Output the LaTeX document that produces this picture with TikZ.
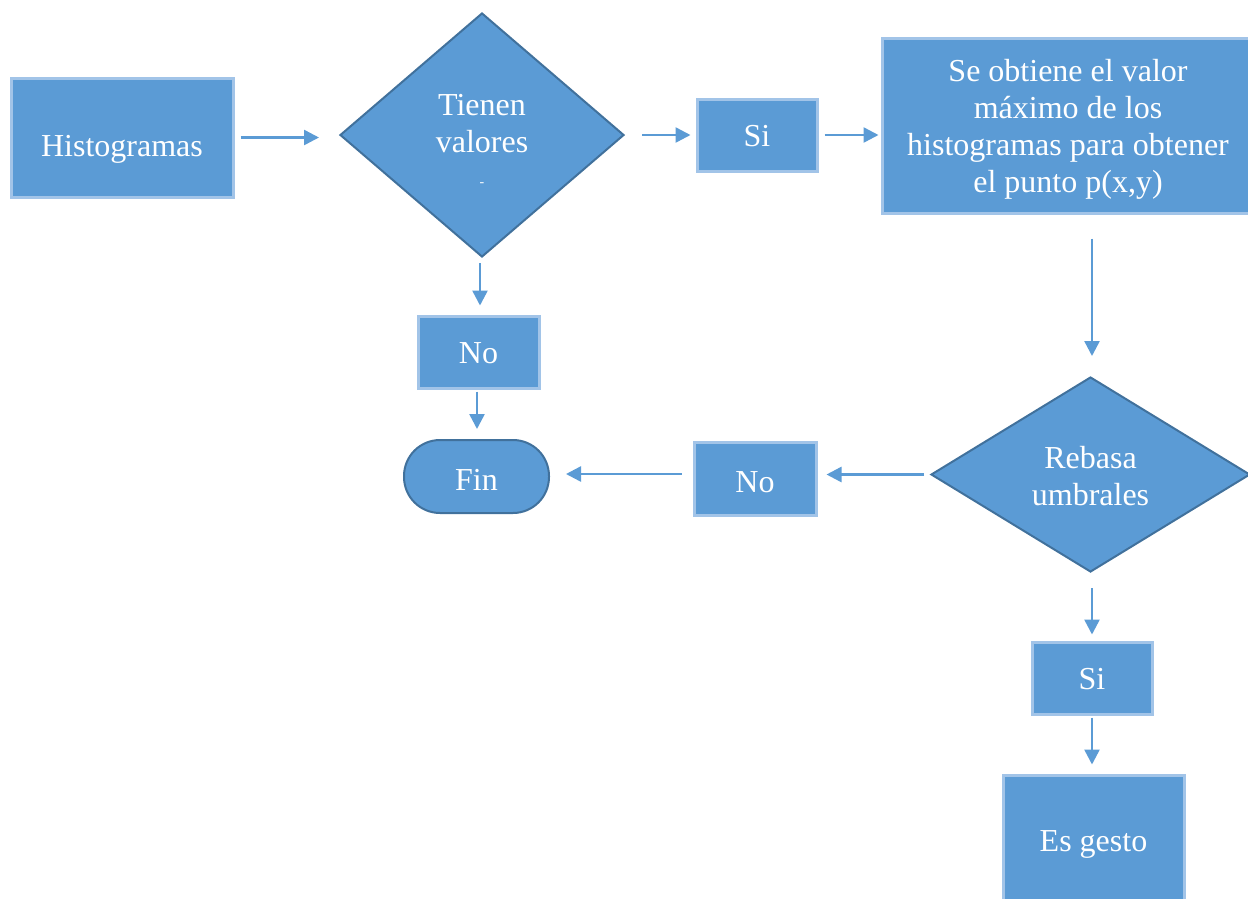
\documentclass[tikz,border=0pt]{standalone}
\usepackage{fontspec}
\setmainfont{Liberation Serif}
\usetikzlibrary{shapes.geometric,arrows.meta}
\definecolor{boxfill}{HTML}{5B9BD5}
\definecolor{boxedge}{HTML}{A2C4E8}
\definecolor{darkedge}{HTML}{41719C}
\definecolor{flow}{HTML}{5B9BD5}
\newcommand\flowfont{\fontsize{32}{37}\selectfont}
% set a single line with its baseline a given distance below the node centre
\newcommand\atbase[2]{\raisebox{-#1}[0pt][0pt]{#2}}
\begin{document}
\begin{tikzpicture}[x=1pt,y=-1pt,
  procbox/.style={rectangle, fill=boxfill, draw=boxedge, line width=3pt,
    text=white, inner sep=0pt, font=\flowfont},
  decision/.style={diamond, fill=boxfill, draw=darkedge, line width=2pt,
    inner sep=0pt},
  terminal/.style={rectangle, rounded corners=36pt, fill=boxfill, draw=darkedge,
    line width=2pt, inner sep=0pt, text=white, font=\flowfont},
  label/.style={text=white, inner sep=0pt, align=center, font=\flowfont},
  flowarrow/.style={draw=flow, line width=2.5pt, -{Triangle[length=15pt,width=15pt]}}]
\useasboundingbox (0,0) rectangle (1248,898);
\clip (0,0) rectangle (1248,898);

% shapes
\node[procbox, minimum width=222pt, minimum height=119pt] (hist) at (122,137.5) {\atbase{18.5pt}{Histogramas}};
\node[decision, minimum width=284pt, minimum height=244pt] (d1) at (482,135) {};
\node[label] (d1text) at (482,124) {Tienen\\valores};
\node[text=white, inner sep=0pt, font=\fontsize{14}{16}\selectfont] (d1dash) at (482,185) {-};
\node[procbox, minimum width=120pt, minimum height=72pt] (si1) at (757,135) {\atbase{11.7pt}{Si}};
\node[procbox, minimum width=372pt, minimum height=175pt] (max) at (1068,125.5) {};
\node[label] (maxtext) at (1068,129.5)
  {Se obtiene el valor\\máximo de los\\histogramas para obtener\\el punto p(x,y)};
\node[decision, minimum width=319pt, minimum height=195pt] (d2) at (1090.5,474.5) {};
\node[label] (d2text) at (1090.5,476.5) {Rebasa\\umbrales};
\node[procbox, minimum width=121pt, minimum height=72pt] (no1) at (478.5,352) {\atbase{11.3pt}{No}};
\node[terminal, minimum width=145pt, minimum height=73pt] (fin) at (476.5,476.5) {\atbase{14pt}{Fin}};
\node[procbox, minimum width=122pt, minimum height=73pt] (no2) at (755,478.5) {\atbase{13.5pt}{No}};
\node[procbox, minimum width=120pt, minimum height=72pt] (si2) at (1092,678) {\atbase{11pt}{Si}};
\node[procbox, minimum width=181pt, minimum height=136pt] (gesto) at (1093.5,843) {\atbase{8.7pt}{Es gesto}};

% connectors
\coordinate (a1) at (hist.east);
\draw[flowarrow, shorten <=6pt, shorten >=20pt] (a1) -- (a1 -| d1.west);
\draw[flowarrow, shorten <=17pt, shorten >=5pt] (d1.east) -- (si1.west);
\draw[flowarrow, shorten <=6pt, shorten >=2pt] (si1.east) -- (si1.east -| max.west);
\coordinate (a4) at (1092,0);
\draw[flowarrow, shorten <=24pt, shorten >=20pt] (a4 |- max.south) -- (a4 |- d2.north);
\draw[flowarrow, shorten <=6pt, shorten >=9pt] (d2.west) -- (d2.west -| no2.east);
\draw[flowarrow, shorten <=11pt, shorten >=16pt] (no2.west |- 0,474) -- (fin.east |- 0,474);
\coordinate (a7) at (480,0);
\draw[flowarrow, shorten <=5pt, shorten >=9pt] (a7 |- d1.south) -- (a7 |- no1.north);
\coordinate (a8) at (477,0);
\draw[flowarrow, shorten <=2pt, shorten >=10pt] (a8 |- no1.south) -- (a8 |- fin.north);
\draw[flowarrow, shorten <=15pt, shorten >=6pt] (a4 |- d2.south) -- (a4 |- si2.north);
\draw[flowarrow, shorten <=2pt, shorten >=9pt] (si2.south) -- (si2.south |- gesto.north);
\end{tikzpicture}
\end{document}
